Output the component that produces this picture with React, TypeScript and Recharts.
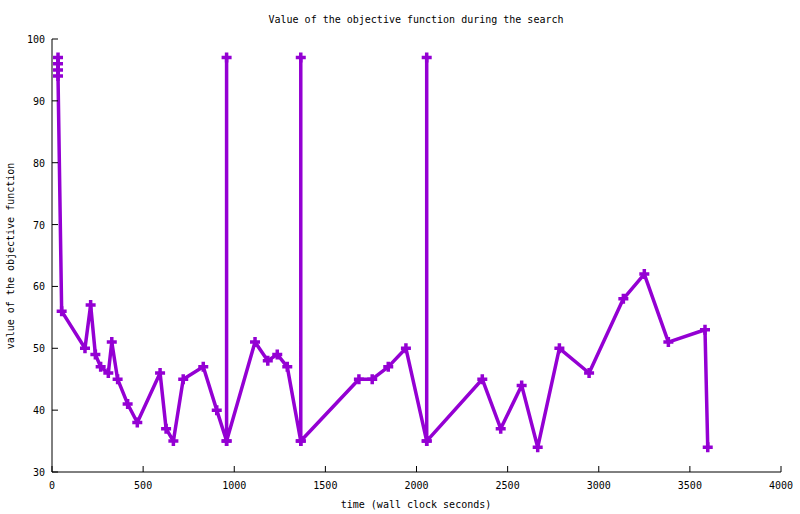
import React from 'react';
import { LineChart, Line, XAxis, YAxis } from 'recharts';

// sample times (wall clock seconds) and objective values
const times = [
  33, 33, 33, 33, 53, 181, 212, 238, 267, 309, 328, 360, 415, 468, 593, 626, 666,
  720, 830, 904, 958, 958, 958, 1114, 1184, 1236, 1291, 1365, 1365, 1365, 1684,
  1757, 1845, 1942, 2056, 2056, 2056, 2361, 2462, 2577, 2665, 2784, 2947, 3135,
  3250, 3382, 3583, 3598,
];
const values = [
  97, 96, 95, 94, 56, 50, 57, 49, 47, 46, 51, 45, 41, 38, 46, 37, 35,
  45, 47, 40, 35, 97, 35, 51, 48, 49, 47, 35, 97, 35, 45,
  45, 47, 50, 35, 97, 35, 45, 37, 44, 34, 50, 46, 58,
  62, 51, 53, 34,
];
const xTicks = [0, 500, 1000, 1500, 2000, 2500, 3000, 3500, 4000];
const yTicks = [30, 40, 50, 60, 70, 80, 90, 100];

const data = times.map((t, i) => ({ t, v: values[i] }));

const PURPLE = '#9400D3';
const FONT = '"DejaVu Sans Mono", monospace';
const TICK = 6;

// gnuplot style ticks point into the plot
const BottomTick = (p: any) => (
  <g>
    <line x1={p.x} y1={p.y} x2={p.x} y2={p.y - TICK} stroke="#000" />
    <text x={p.x} y={p.y + 17} textAnchor="middle" fontFamily={FONT} fontSize={10} fill="#000">
      {p.payload.value}
    </text>
  </g>
);
const TopTick = (p: any) => <line x1={p.x} y1={p.y} x2={p.x} y2={p.y + TICK} stroke="#000" />;
const LeftTick = (p: any) => (
  <g>
    <line x1={p.x} y1={p.y} x2={p.x + TICK} y2={p.y} stroke="#000" />
    <text x={p.x - 7} y={p.y + 4} textAnchor="end" fontFamily={FONT} fontSize={10} fill="#000">
      {p.payload.value}
    </text>
  </g>
);
const RightTick = (p: any) => <line x1={p.x} y1={p.y} x2={p.x - TICK} y2={p.y} stroke="#000" />;

const Cross = (p: any) => {
  const { cx, cy } = p;
  if (cx == null || cy == null) return <g key={p.key} />;
  return (
    <path
      key={p.key}
      d={`M${cx - 5},${cy}h10M${cx},${cy - 5}v10`}
      stroke={PURPLE}
      strokeWidth={3.5}
      fill="none"
    />
  );
};

const text: React.CSSProperties = {
  position: 'absolute',
  fontFamily: FONT,
  fontSize: 10,
  color: '#000',
  whiteSpace: 'nowrap',
  lineHeight: '12px',
};

export default function App() {
  return (
    <div style={{ position: 'absolute', left: 0, top: 0, width: 800, height: 514, background: '#fff' }}>
      <LineChart width={800} height={514} data={data} margin={{ top: 39, right: 19, bottom: 0, left: 0 }}>
        <XAxis
          xAxisId="b"
          dataKey="t"
          type="number"
          domain={[0, 4000]}
          ticks={xTicks}
          interval={0}
          height={42}
          tickSize={0}
          tickMargin={0}
          tickLine={false}
          axisLine={{ stroke: '#000' }}
          tick={BottomTick}
        />
        <XAxis
          xAxisId="top"
          orientation="top"
          dataKey="t"
          type="number"
          domain={[0, 4000]}
          ticks={xTicks}
          interval={0}
          height={0}
          tickSize={0}
          tickMargin={0}
          tickLine={false}
          axisLine={{ stroke: '#000' }}
          tick={TopTick}
        />
        <YAxis
          yAxisId="l"
          type="number"
          domain={[30, 100]}
          ticks={yTicks}
          interval={0}
          width={52}
          tickSize={0}
          tickMargin={0}
          tickLine={false}
          axisLine={{ stroke: '#000' }}
          tick={LeftTick}
        />
        <YAxis
          yAxisId="r"
          orientation="right"
          type="number"
          domain={[30, 100]}
          ticks={yTicks}
          interval={0}
          width={0}
          tickSize={0}
          tickMargin={0}
          tickLine={false}
          axisLine={{ stroke: '#000' }}
          tick={RightTick}
        />
        <Line
          xAxisId="b"
          yAxisId="l"
          type="linear"
          dataKey="v"
          stroke={PURPLE}
          strokeWidth={3.5}
          strokeLinejoin="round"
          dot={Cross}
          activeDot={false}
          isAnimationActive={false}
        />
      </LineChart>
      <div style={{ ...text, left: 416, top: 14, transform: 'translateX(-50%)' }}>
        Value of the objective function during the search
      </div>
      <div style={{ ...text, left: 416, top: 499, transform: 'translateX(-50%)' }}>
        time (wall clock seconds)
      </div>
      <div style={{ ...text, left: 11, top: 256, transform: 'translate(-50%, -50%) rotate(-90deg)' }}>
        value of the objective function
      </div>
    </div>
  );
}
